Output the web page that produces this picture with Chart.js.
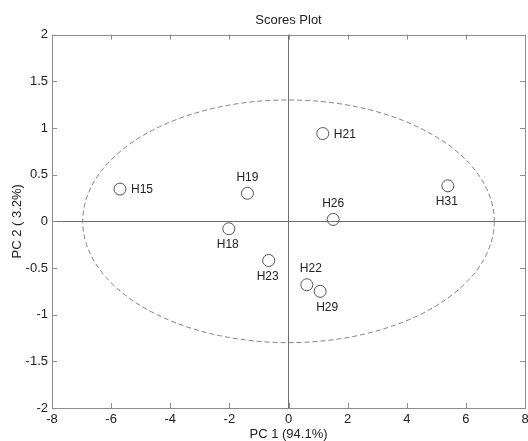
<!DOCTYPE html>
<html lang="en">
<head>
<meta charset="UTF-8">
<title>Scores Plot</title>
<script src="https://cdn.jsdelivr.net/npm/chart.js@4.4.1/dist/chart.umd.min.js"></script>
<style>
  html, body { margin: 0; padding: 0; background: #fff; }
</style>
</head>
<body>
<canvas id="scores" width="528" height="441"></canvas>
<script>
// PCA scores
const sampleNames = ['H15', 'H19', 'H18', 'H23', 'H21', 'H31', 'H26', 'H22', 'H29'];
const pc1Scores = [-5.70, -1.39, -2.02, -0.67, 1.16, 5.39, 1.51, 0.62, 1.07];
const pc2Scores = [0.345, 0.30, -0.08, -0.42, 0.94, 0.38, 0.02, -0.68, -0.75];
const xTicks = [-8, -6, -4, -2, 0, 2, 4, 6, 8];
const yTicks = [-2, -1.5, -1, -0.5, 0, 0.5, 1, 1.5, 2];
// confidence ellipse: centre and semi-axes in data units
const ellipseCenter = [0, 0];
const ellipseRadii = [6.96, 1.30];

// where each name sits around its marker
const labelSide = {
  H15: 'right', H19: 'above', H18: 'below', H23: 'below', H21: 'right',
  H31: 'below', H26: 'above', H22: 'above', H29: 'below'
};

const FONT = 'Liberation Sans, Arial, sans-serif';

const points = sampleNames.map((n, i) => ({ x: pc1Scores[i], y: pc2Scores[i], name: n }));

const frame = {
  id: 'frame',
  beforeDatasetsDraw(chart) {
    const { ctx, chartArea: a, scales: { x, y } } = chart;
    ctx.save();

    // dashed ellipse
    const cx = x.getPixelForValue(ellipseCenter[0]);
    const cy = y.getPixelForValue(ellipseCenter[1]);
    const rx = Math.abs(x.getPixelForValue(ellipseCenter[0] + ellipseRadii[0]) - cx);
    const ry = Math.abs(y.getPixelForValue(ellipseCenter[1] + ellipseRadii[1]) - cy);
    ctx.strokeStyle = '#808080';
    ctx.lineWidth = 1;
    ctx.setLineDash([5, 3]);
    ctx.beginPath();
    ctx.ellipse(cx, cy, rx, ry, 0, 0, Math.PI * 2);
    ctx.stroke();
    ctx.setLineDash([]);

    // box
    ctx.strokeStyle = '#8c8c8c';
    ctx.strokeRect(Math.round(a.left) + 0.5, Math.round(a.top) + 0.5,
                   Math.round(a.width), Math.round(a.height));

    // inside tick marks on all four sides
    const len = 5;
    ctx.beginPath();
    x.ticks.forEach(t => {
      const px = Math.round(x.getPixelForValue(t.value)) + 0.5;
      ctx.moveTo(px, a.bottom); ctx.lineTo(px, a.bottom - len);
      ctx.moveTo(px, a.top); ctx.lineTo(px, a.top + len);
    });
    y.ticks.forEach(t => {
      const py = Math.round(y.getPixelForValue(t.value)) + 0.5;
      ctx.moveTo(a.left, py); ctx.lineTo(a.left + len, py);
      ctx.moveTo(a.right, py); ctx.lineTo(a.right - len, py);
    });
    ctx.stroke();
    ctx.restore();
  },
  afterDatasetsDraw(chart) {
    const { ctx } = chart;
    const meta = chart.getDatasetMeta(0);
    ctx.save();
    ctx.font = '12px ' + FONT;
    ctx.fillStyle = '#222';
    ctx.textBaseline = 'middle';
    meta.data.forEach((el, i) => {
      const name = sampleNames[i];
      const side = labelSide[name];
      if (side === 'right') {
        ctx.textAlign = 'left';
        ctx.fillText(name, el.x + 11, el.y + 1);
      } else if (side === 'above') {
        ctx.textAlign = 'center';
        ctx.fillText(name, el.x + (name === 'H22' ? 4 : 0), el.y - 16);
      } else {
        ctx.textAlign = 'center';
        ctx.fillText(name, el.x + (name === 'H29' ? 7 : -1), el.y + 16);
      }
    });
    ctx.restore();
  }
};

const zeroLine = c => (c.tick && c.tick.value === 0) ? '#6e6e6e' : 'rgba(0,0,0,0)';

new Chart(document.getElementById('scores'), {
  type: 'scatter',
  data: {
    datasets: [{
      data: points,
      pointStyle: 'circle',
      pointRadius: 6,
      pointHoverRadius: 6,
      backgroundColor: 'rgba(0,0,0,0)',
      borderColor: '#555',
      borderWidth: 1
    }]
  },
  options: {
    responsive: false,
    animation: false,
    layout: { autoPadding: false, padding: { top: 0, right: 3, bottom: 0, left: 0 } },
    plugins: {
      legend: { display: false },
      tooltip: { enabled: false },
      title: {
        display: true,
        text: 'Scores Plot',
        fullSize: false,
        color: '#222',
        font: { family: FONT, size: 13, weight: 'normal' },
        padding: { top: 13, bottom: 6 }
      }
    },
    scales: {
      x: {
        type: 'linear',
        min: -8, max: 8,
        afterBuildTicks: s => { s.ticks = xTicks.map(v => ({ value: v })); },
        afterFit: s => { s.height = 33; s.paddingLeft = 0; s.paddingRight = 0; },
        grid: { color: zeroLine, lineWidth: 1, drawTicks: false },
        border: { display: false },
        ticks: { color: '#222', padding: 4, maxRotation: 0, font: { family: FONT, size: 13 },
                 callback: v => String(v) },
        title: {
          display: true, text: 'PC 1 (94.1%)', color: '#222',
          font: { family: FONT, size: 13 }, padding: { top: 0, bottom: -1 }
        }
      },
      y: {
        type: 'linear',
        min: -2, max: 2,
        afterBuildTicks: s => { s.ticks = yTicks.map(v => ({ value: v })); },
        afterFit: s => { s.width = 52; s.paddingTop = 0; s.paddingBottom = 0; },
        grid: { color: zeroLine, lineWidth: 1, drawTicks: false },
        border: { display: false },
        ticks: { color: '#222', padding: 4, font: { family: FONT, size: 13 },
                 callback: v => String(v) },
        title: {
          display: true, text: 'PC 2 ( 3.2%)', color: '#222',
          font: { family: FONT, size: 13 }, padding: { top: 10, bottom: 0 }
        }
      }
    }
  },
  plugins: [frame]
});
</script>
</body>
</html>
